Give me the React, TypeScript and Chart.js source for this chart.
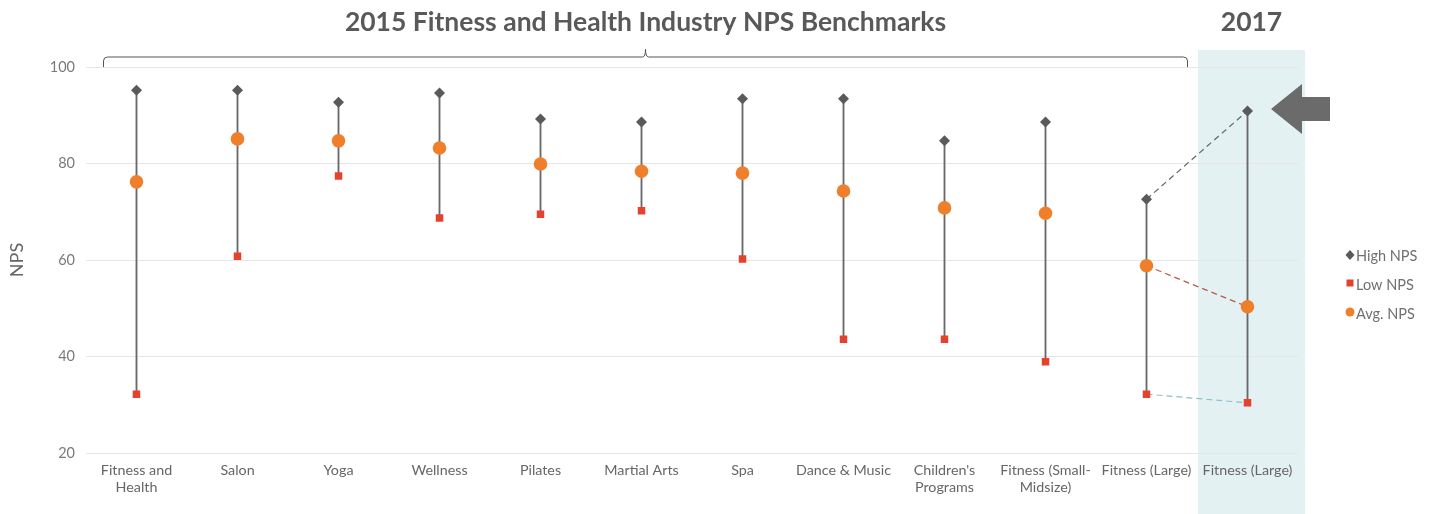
import React, { useEffect, useRef } from "react";
import { Chart, registerables } from "chart.js";

Chart.register(...registerables);

const categories: (string | string[])[] = [
  ["Fitness and", "Health"],
  "Salon",
  "Yoga",
  "Wellness",
  "Pilates",
  "Martial Arts",
  "Spa",
  "Dance & Music",
  ["Children's", "Programs"],
  ["Fitness (Small-", "Midsize)"],
  "Fitness (Large)",
  "Fitness (Large)",
];

const highValues = [95.2, 95.2, 92.7, 94.6, 89.2, 88.6, 93.4, 93.4, 84.7, 88.6, 72.6, 90.9];
const lowValues = [32.2, 60.8, 77.4, 68.7, 69.5, 70.2, 60.2, 43.6, 43.6, 38.9, 32.2, 30.4];
const avgValues = [76.2, 85.1, 84.7, 83.2, 79.9, 78.4, 78.0, 74.3, 70.8, 69.7, 58.8, 50.3];

// 2015 -> 2017 connectors (only the last two categories)
const highTrend = [null, null, null, null, null, null, null, null, null, null, 72.6, 90.9];
const avgTrend = [null, null, null, null, null, null, null, null, null, null, 58.8, 50.3];
const lowTrend = [null, null, null, null, null, null, null, null, null, null, 32.2, 30.4];

const yTicks = [20, 40, 60, 80, 100];

const titleText = "2015 Fitness and Health Industry NPS Benchmarks";
const title2017 = "2017";
const legendItems = [
  { label: "High NPS", style: "diamond", color: "#5a5a5a" },
  { label: "Low NPS", style: "square", color: "#e5412d" },
  { label: "Avg. NPS", style: "circle", color: "#f07f2b" },
];

const FONT = 'Lato, "Open Sans", "DejaVu Sans", sans-serif';

const annotPlugin = {
  id: "annot",
  beforeDraw(chart: any) {
    const { ctx, chartArea, scales } = chart;
    const x = scales.x;
    const p10 = x.getPixelForValue(10);
    const p11 = x.getPixelForValue(11);
    const left = p11 - (p11 - p10) / 2 + 1;
    const right = chartArea.right + 7;
    ctx.save();
    ctx.fillStyle = "#e3f1f3";
    ctx.fillRect(left, 50, right - left, chart.height - 50);
    ctx.restore();
  },
  afterDraw(chart: any) {
    const { ctx, chartArea, scales } = chart;
    const x = scales.x;
    ctx.save();
    // titles
    ctx.fillStyle = "#595959";
    ctx.font = `bold 26.5px ${FONT}`;
    ctx.textAlign = "center";
    ctx.textBaseline = "middle";
    const L = x.getPixelForValue(0) - 33;
    const R = x.getPixelForValue(10) + 41;
    const C = (L + R) / 2;
    ctx.fillText(titleText, C, 22);
    ctx.fillText(title2017, x.getPixelForValue(11) + 4, 22);

    // bracket
    const by = 57;
    const bottom = chartArea.top;
    ctx.strokeStyle = "#555";
    ctx.lineWidth = 1;
    ctx.beginPath();
    ctx.moveTo(L, bottom);
    ctx.lineTo(L, by + 4);
    ctx.quadraticCurveTo(L, by, L + 4, by);
    ctx.lineTo(C - 3, by);
    ctx.quadraticCurveTo(C, by, C, by - 8);
    ctx.quadraticCurveTo(C, by, C + 3, by);
    ctx.lineTo(R - 4, by);
    ctx.quadraticCurveTo(R, by, R, by + 4);
    ctx.lineTo(R, bottom);
    ctx.stroke();

    // arrow
    ctx.fillStyle = "#6b6b6b";
    ctx.beginPath();
    ctx.moveTo(1271, 109);
    ctx.lineTo(1302, 84);
    ctx.lineTo(1302, 97);
    ctx.lineTo(1330, 97);
    ctx.lineTo(1330, 121);
    ctx.lineTo(1302, 121);
    ctx.lineTo(1302, 134);
    ctx.closePath();
    ctx.fill();

    // legend
    ctx.font = `14.5px ${FONT}`;
    ctx.textAlign = "left";
    legendItems.forEach((it, i) => {
      const cy = 255 + i * 29;
      const mx = 1350;
      ctx.fillStyle = it.color;
      ctx.beginPath();
      if (it.style === "diamond") {
        ctx.moveTo(mx, cy - 5);
        ctx.lineTo(mx + 4.5, cy);
        ctx.lineTo(mx, cy + 5);
        ctx.lineTo(mx - 4.5, cy);
        ctx.closePath();
      } else if (it.style === "square") {
        ctx.rect(mx - 3.5, cy - 4.5, 7, 7);
      } else {
        ctx.arc(mx, cy - 1, 4.5, 0, Math.PI * 2);
      }
      ctx.fill();
      ctx.fillStyle = "#707070";
      ctx.fillText(it.label, mx + 6, cy + 1);
    });
    ctx.restore();
  },
};

export default function App() {
  const ref = useRef<HTMLCanvasElement | null>(null);
  useEffect(() => {
    if (!ref.current) return;
    Chart.defaults.font.family = FONT;
    const chart = new Chart(ref.current, {
      type: "bar",
      data: {
        labels: categories,
        datasets: [
          {
            type: "bar",
            label: "Range",
            data: lowValues.map((l, i) => [l, highValues[i]]) as any,
            backgroundColor: "#6a6a6a",
            barThickness: 1.2,
            order: 10,
          },
          {
            type: "line",
            label: "HighTrend",
            data: highTrend as any,
            borderColor: "#666",
            borderWidth: 1.2,
            borderDash: [6, 4],
            pointRadius: 0,
            order: 5,
          },
          {
            type: "line",
            label: "AvgTrend",
            data: avgTrend as any,
            borderColor: "#b85a45",
            borderWidth: 1.2,
            borderDash: [6, 4],
            pointRadius: 0,
            order: 5,
          },
          {
            type: "line",
            label: "LowTrend",
            data: lowTrend as any,
            borderColor: "#8fc0c3",
            borderWidth: 1.2,
            borderDash: [6, 4],
            pointRadius: 0,
            order: 5,
          },
          {
            type: "line",
            label: "Low NPS",
            data: lowValues,
            showLine: false,
            pointStyle: "rect",
            pointRadius: 5.3,
            pointBackgroundColor: "#e5412d",
            pointBorderWidth: 0,
            order: 3,
          },
          {
            type: "line",
            label: "High NPS",
            data: highValues,
            showLine: false,
            pointStyle: "rectRot",
            pointRadius: 5.5,
            pointBackgroundColor: "#5a5a5a",
            pointBorderWidth: 0,
            order: 2,
          },
          {
            type: "line",
            label: "Avg. NPS",
            data: avgValues,
            showLine: false,
            pointStyle: "circle",
            pointRadius: 6.8,
            pointBackgroundColor: "#f07f2b",
            pointBorderWidth: 0,
            order: 1,
          },
        ],
      },
      options: {
        responsive: true,
        maintainAspectRatio: false,
        animation: false,
        events: [],
        layout: { padding: { top: 67, right: 142, bottom: 0, left: 0 } },
        plugins: {
          legend: { display: false },
          tooltip: { enabled: false },
          title: { display: false },
        },
        scales: {
          x: {
            type: "category",
            offset: true,
            grid: { display: false },
            border: { display: false },
            ticks: {
              color: "#666",
              font: { size: 14.3, family: FONT, lineHeight: 1.2 },
              padding: 1,
              maxRotation: 0,
              autoSkip: false,
            },
            afterFit: (s: any) => {
              s.height = 61;
            },
          },
          y: {
            min: 20,
            max: 100,
            afterBuildTicks: (s: any) => {
              s.ticks = yTicks.map((v) => ({ value: v }));
            },
            grid: { color: "#e6e6e6", lineWidth: 1, drawTicks: false },
            border: { display: false },
            ticks: {
              color: "#7a7a7a",
              font: { size: 14.5, family: FONT },
              padding: 11,
            },
            title: {
              display: true,
              text: "NPS",
              color: "#666",
              font: { size: 18, family: FONT },
              padding: { top: 6, bottom: 0 },
            },
            afterFit: (s: any) => {
              s.width = 86;
            },
          },
        },
      },
      plugins: [annotPlugin],
    });
    return () => chart.destroy();
  }, []);
  return (
    <div style={{ position: "fixed", left: 0, top: 0, width: 1440, height: 514, background: "#fff" }}>
      <canvas ref={ref} />
    </div>
  );
}
